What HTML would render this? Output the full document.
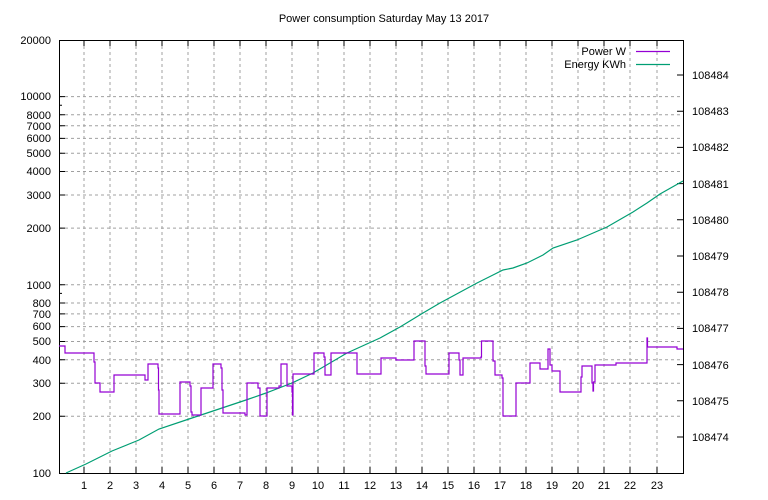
<!DOCTYPE html>
<html><head><meta charset="utf-8"><style>body{margin:0;background:#fff}svg{display:block}text{font-family:"Liberation Sans",sans-serif;font-size:11px;fill:#000}</style></head><body>
<svg width="768" height="500" viewBox="0 0 768 500" xmlns="http://www.w3.org/2000/svg">
<rect width="768" height="500" fill="#fff"/>
<text x="384" y="22" text-anchor="middle">Power consumption Saturday May 13 2017</text>
<g stroke="#a0a0a0" stroke-width="1" stroke-dasharray="3,3" fill="none">
<path d="M59 416.3H683M59 383.2H683M59 359.7H683M59 341.5H683M59 326.6H683M59 313.9H683M59 303H683M59 284.8H683M59 228.1H683M59 195H683M59 171.5H683M59 153.3H683M59 138.4H683M59 125.8H683M59 114.8H683M59 96.6H683"/>
<path d="M84 40V473M110 40V473M136 40V473M162 40V473M188 40V473M214 40V473M240 40V473M266 40V473M292 40V473M318 40V473M344 40V473M370 40V473M396 40V473M422 40V473M448 40V473M474 40V473M500 40V473M526 40V473M552 40V473M578 40V473M604 40V473M630 40V473M657 40V473"/>
</g>
<g stroke="#000" stroke-width="1" fill="none">
<rect x="59.5" y="40.5" width="624" height="433"/>
<path d="M59 416.3h6M59 383.2h6M59 359.7h6M59 341.5h6M59 326.6h6M59 313.9h6M59 303h6M59 293.4h3M59 284.8h6M59 228.1h6M59 195h6M59 171.5h6M59 153.3h6M59 138.4h6M59 125.8h6M59 114.8h6M59 105.2h3M59 96.6h6"/>
<path d="M683 437h-6M683 400.8h-6M683 364.6h-6M683 328.4h-6M683 292.2h-6M683 256h-6M683 219.8h-6M683 183.6h-6M683 147.4h-6M683 111.2h-6M683 75h-6"/>
<path d="M84 473v-6M110 473v-6M136 473v-6M162 473v-6M188 473v-6M214 473v-6M240 473v-6M266 473v-6M292 473v-6M318 473v-6M344 473v-6M370 473v-6M396 473v-6M422 473v-6M448 473v-6M474 473v-6M500 473v-6M526 473v-6M552 473v-6M578 473v-6M604 473v-6M630 473v-6M657 473v-6"/>
<path d="M84 40v6M110 40v6M136 40v6M162 40v6M188 40v6M214 40v6M240 40v6M266 40v6M292 40v6M318 40v6M344 40v6M370 40v6M396 40v6M422 40v6M448 40v6M474 40v6M500 40v6M526 40v6M552 40v6M578 40v6M604 40v6M630 40v6M657 40v6"/>
</g>
<g text-anchor="end">
<text x="51" y="477">100</text><text x="51" y="420">200</text><text x="51" y="387">300</text><text x="51" y="364">400</text><text x="51" y="345">500</text><text x="51" y="330">600</text><text x="51" y="318">700</text><text x="51" y="307">800</text><text x="51" y="289">1000</text><text x="51" y="232">2000</text><text x="51" y="199">3000</text><text x="51" y="175">4000</text><text x="51" y="157">5000</text><text x="51" y="142">6000</text><text x="51" y="130">7000</text><text x="51" y="119">8000</text><text x="51" y="100">10000</text><text x="51" y="44">20000</text>
</g>
<g>
<text x="692" y="441">108474</text><text x="692" y="405">108475</text><text x="692" y="369">108476</text><text x="692" y="332">108477</text><text x="692" y="296">108478</text><text x="692" y="260">108479</text><text x="692" y="224">108480</text><text x="692" y="188">108481</text><text x="692" y="151">108482</text><text x="692" y="115">108483</text><text x="692" y="79">108484</text>
</g>
<g text-anchor="middle">
<text x="84" y="489">1</text><text x="110" y="489">2</text><text x="136" y="489">3</text><text x="162" y="489">4</text><text x="188" y="489">5</text><text x="214" y="489">6</text><text x="240" y="489">7</text><text x="266" y="489">8</text><text x="292" y="489">9</text><text x="318" y="489">10</text><text x="344" y="489">11</text><text x="370" y="489">12</text><text x="396" y="489">13</text><text x="422" y="489">14</text><text x="448" y="489">15</text><text x="474" y="489">16</text><text x="500" y="489">17</text><text x="526" y="489">18</text><text x="552" y="489">19</text><text x="578" y="489">20</text><text x="604" y="489">21</text><text x="630" y="489">22</text><text x="657" y="489">23</text>
</g>
<text x="626" y="55" text-anchor="end">Power W</text>
<text x="626" y="68" text-anchor="end">Energy KWh</text>
<path d="M636 51.5H670" stroke="#9400d3" stroke-width="1.2"/>
<path d="M636 64.5H670" stroke="#009e73" stroke-width="1.2"/>
<path fill="none" stroke="#009e73" stroke-width="1.2" d="M66 473L86 464L112 451L139 440L159 429L189 419L216 410L246 400L266 393L292 383L313 373L347 353L380 338L400 327L423 313L440 303L477 283L493 275L503 270L513 268L527 263L543 255L553 248L577 240L607 227L633 212L647 203L660 194L683 181"/>
<path fill="none" stroke="#9400d3" stroke-width="1.2" d="M59 346H65V353H94V362H95V383H100V392H114V375H145V380H148V364H158V368H158.5V390H159V414H180V382H190V386H191V412H192V415H201V388H213V364H221V368H222V390H223V413H245V415H247V383H258V388H260V416H267V388H279V386H281V364H287V386H292V392H292.5V415H293V374H314V353H324V357H325V375H331V353H357V374H381V358H396V360H414V341H425V366H426V374H449V353H459V360H460V375H463V358H481V357H481.5V341H493V361H495V375H502V378H503V416H516V383H530V363H540V369H548V349H550V365H552V371H560V392H581V377H582V366H592V383H593V391H593.5V382H595V365H616V363H647V338H647.5V347H677V349H683"/>
</svg>
</body></html>
